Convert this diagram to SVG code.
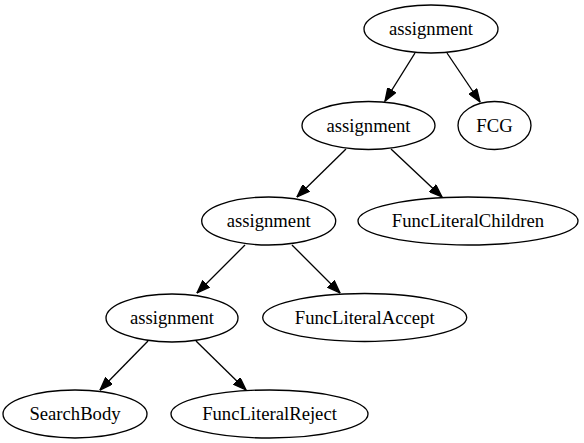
<svg xmlns="http://www.w3.org/2000/svg" width="584" height="443" viewBox="0 0 584 443">
<style>
  .node ellipse { fill: none; stroke: #000; stroke-width: 1.33; }
  .node text { font-size: 18.67px; text-anchor: middle; fill: #000; }
  .edges line { stroke: #000; stroke-width: 1.33; marker-end: url(#arrow); }
</style>
<defs>
  <marker id="arrow" viewBox="0 0 14 10" refX="13.3" refY="5" markerWidth="14" markerHeight="10" markerUnits="userSpaceOnUse" orient="auto">
    <path d="M0.7,0.4 L13.3,5 L0.7,9.6 Z" fill="#000" stroke="#000" stroke-width="1.33"/>
  </marker>
</defs>
<rect width="584" height="443" fill="#fff"/>
<g id="edges" class="edges">
  <line x1="415" y1="53" x2="385" y2="101"/>
  <line x1="447" y1="53" x2="480" y2="102"/>
  <line x1="346" y1="149" x2="297" y2="197"/>
  <line x1="391" y1="149" x2="442" y2="197"/>
  <line x1="245" y1="245" x2="197" y2="293"/>
  <line x1="292" y1="245" x2="340" y2="293"/>
  <line x1="148" y1="341" x2="100" y2="390"/>
  <line x1="196" y1="341" x2="246" y2="390"/>
</g>
<g font-family="Liberation Serif, Times New Roman, serif">
<g id="n1" class="node"><ellipse cx="431" cy="29" rx="67" ry="24"/><text x="431" y="35">assignment</text></g>
<g id="n2" class="node"><ellipse cx="368.5" cy="125.5" rx="66.5" ry="24"/><text x="368.5" y="131.5">assignment</text></g>
<g id="n3" class="node"><ellipse cx="494.5" cy="125.5" rx="36.5" ry="24"/><text x="494.5" y="131.5">FCG</text></g>
<g id="n4" class="node"><ellipse cx="268.7" cy="221" rx="67" ry="24"/><text x="268.7" y="227">assignment</text></g>
<g id="n5" class="node"><ellipse cx="468" cy="221" rx="110" ry="24"/><text x="468" y="227">FuncLiteralChildren</text></g>
<g id="n6" class="node"><ellipse cx="172" cy="318" rx="66" ry="24"/><text x="172" y="324">assignment</text></g>
<g id="n7" class="node"><ellipse cx="364.7" cy="317.5" rx="102" ry="24"/><text x="364.7" y="323.5">FuncLiteralAccept</text></g>
<g id="n8" class="node"><ellipse cx="75" cy="414" rx="72" ry="24"/><text x="75" y="420">SearchBody</text></g>
<g id="n9" class="node"><ellipse cx="269.5" cy="414" rx="98.5" ry="24"/><text x="269.5" y="420">FuncLiteralReject</text></g>
</g>
</svg>
